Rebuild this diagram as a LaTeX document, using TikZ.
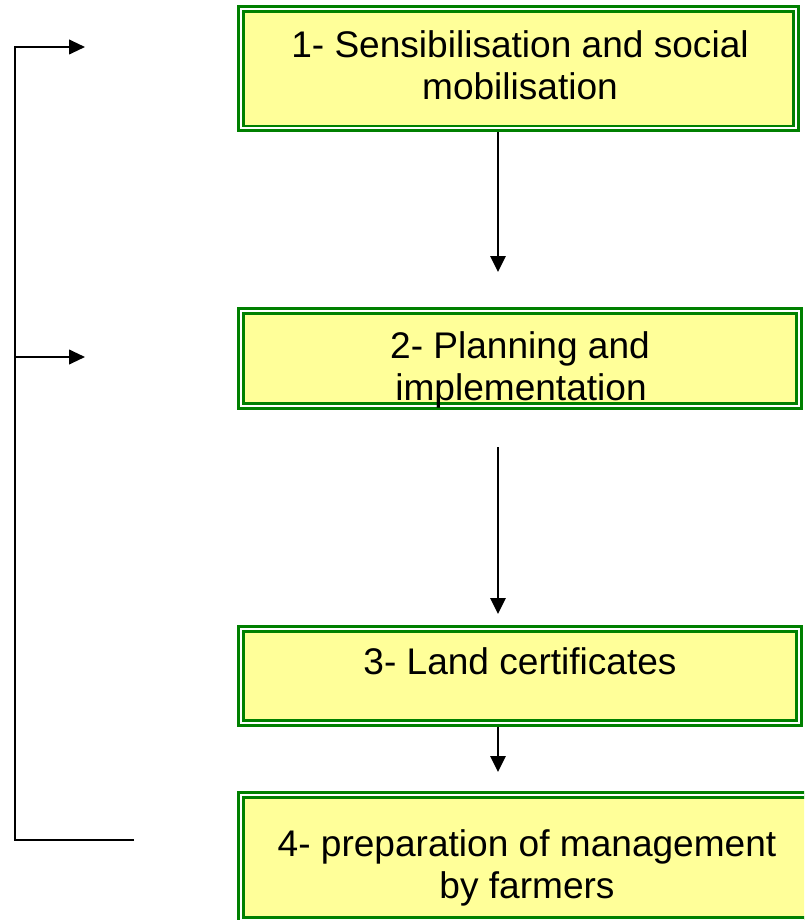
\documentclass[tikz,border=0pt]{standalone}
\usepackage{fontspec}
\setmainfont{Liberation Sans}
\usetikzlibrary{arrows.meta}
\definecolor{dgreen}{RGB}{0,128,0}
\definecolor{yfill}{RGB}{255,255,153}
\begin{document}
\begin{tikzpicture}[x=0.75pt,y=-0.75pt,
  box/.style={draw=dgreen, line width=2pt, double=white, double distance=1.5pt,
    fill=yfill, inner sep=0pt, outer sep=2.75pt, rectangle},
  lbl/.style={anchor=base, inner sep=0pt, font=\fontsize{27.8}{33}\selectfont},
  conn/.style={line width=1.5pt, -{Triangle[width=11.5pt,length=12pt]}},
  lconn/.style={line width=1.5pt, line join=miter, -{Triangle[width=11pt,length=12pt]}}]
\useasboundingbox (0,0) rectangle (804,920);
\clip (0,0) rectangle (804,920);
% boxes
\node[box, minimum width=416.25pt, minimum height=89.6pt] (b1) at (518.5,68.75) {};
\node[box, minimum width=418.5pt, minimum height=71.25pt] (b2) at (520,358.5) {};
\node[box, minimum width=418.5pt, minimum height=70.5pt] (b3) at (520,676) {};
\node[box, minimum width=433.5pt, minimum height=93.75pt] (b4) at (530,857.5) {};
% labels
\node[lbl] (t1a) at (520,58) {1- Sensibilisation and social};
\node[lbl] (t1b) at (520,100) {mobilisation};
\node[lbl] (t2a) at (520,358.5) {2- Planning and};
\node[lbl] (t2b) at (521,400.5) {implementation};
\node[lbl] (t3) at (520,674.5) {3- Land certificates};
\node[lbl] (t4a) at (527,856.5) {4- preparation of management};
\node[lbl] (t4b) at (527,898.5) {by farmers};
% vertical connectors
\coordinate (e1) at (498,272);
\coordinate (s2) at (498,447);
\coordinate (e2) at (498,614);
\coordinate (e3) at (498,772);
\draw[conn] (b1.south -| e1) -- (e1);
\draw[conn] (s2) -- (e2);
\draw[conn] (b3.south -| e3) -- (e3);
% feedback line on the left
\coordinate (ltop) at (15,47);
\coordinate (lmid) at (15,357);
\coordinate (lbot) at (15,840);
\coordinate (tip1) at (85,47);
\coordinate (tip2) at (85,357);
\coordinate (bend) at (134,840);
\draw[lconn] (bend) -- (lbot) -- (ltop) -- (tip1);
\draw[lconn] (lmid) -- (tip2);
\end{tikzpicture}
\end{document}
